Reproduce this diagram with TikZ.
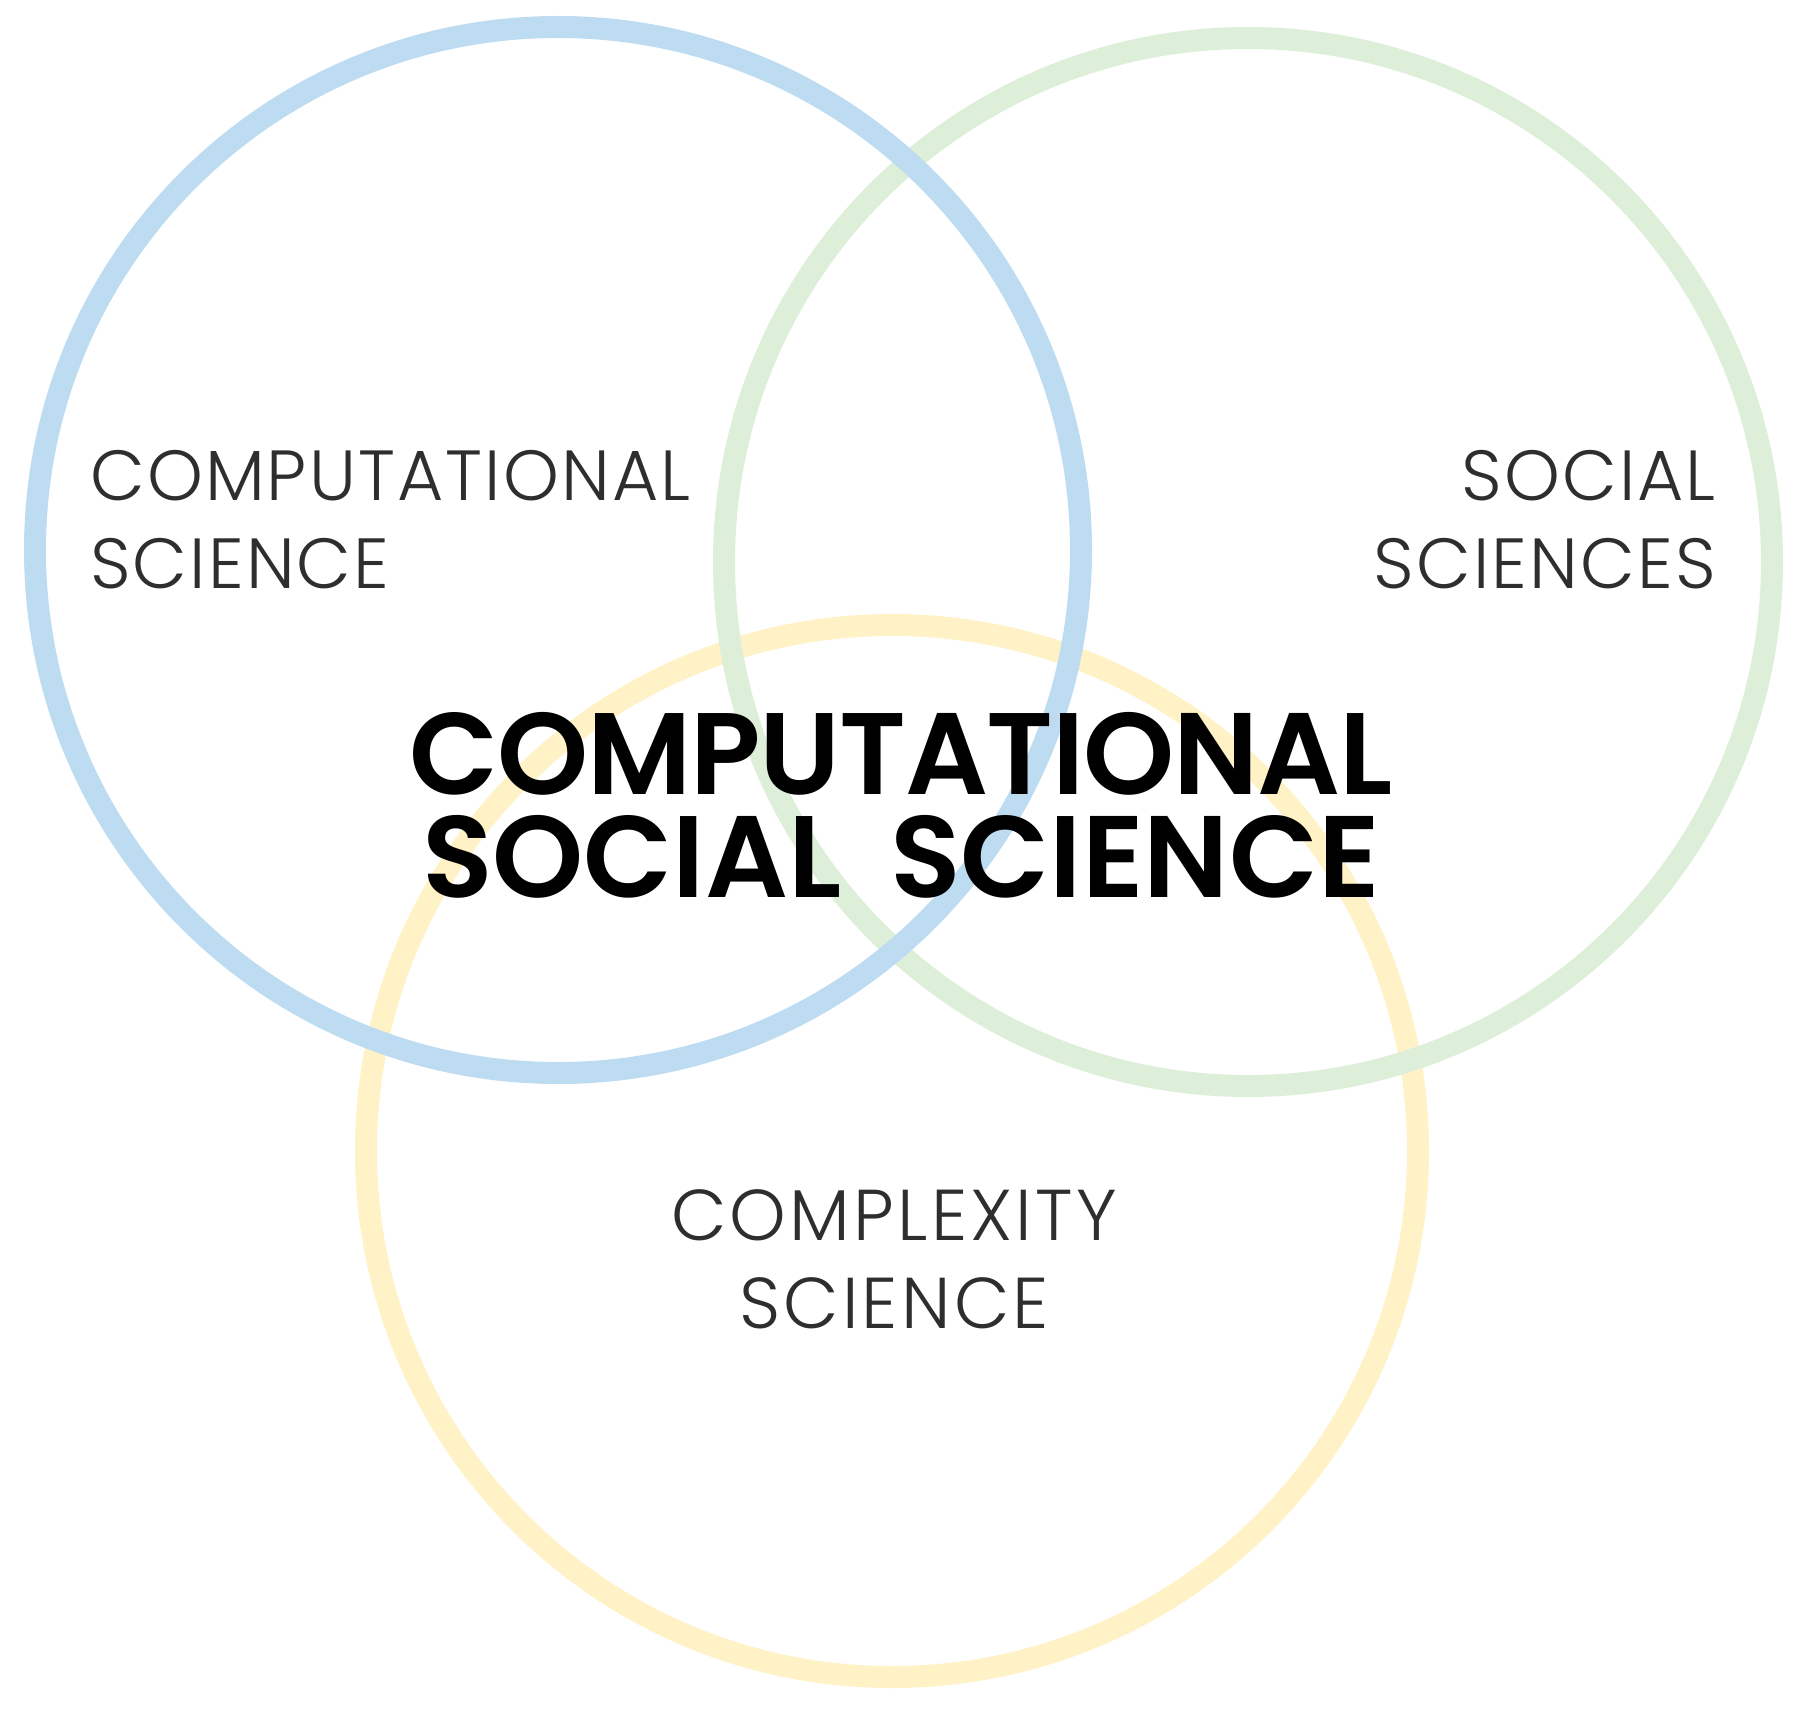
\documentclass[tikz,border=0pt]{standalone}
\usepackage{fontspec}
\setmainfont{Poppins}
\newfontfamily\lightf[LetterSpace=3]{Poppins Light}
\newfontfamily\lightfw[LetterSpace=4.5]{Poppins Light}
\newfontfamily\boldf{Poppins SemiBold}
\newfontfamily\boldft[LetterSpace=-1]{Poppins SemiBold}
\definecolor{cblue}{HTML}{BDDCF2}
\definecolor{cgreen}{HTML}{DDEFD8}
\definecolor{cyellow}{HTML}{FFF2C6}
\definecolor{labgray}{HTML}{2E2E2E}
\begin{document}
\begin{tikzpicture}[x=1pt,y=-1pt,
  ring/.style={line width=22pt},
  lab/.style={inner sep=0pt,text=labgray,font=\lightf\fontsize{71}{88}\selectfont},
  labw/.style={inner sep=0pt,text=labgray,font=\lightfw\fontsize{72}{88}\selectfont},
  title/.style={inner sep=0pt,text=black,align=center,font=\boldf\fontsize{116}{103}\selectfont}]
\useasboundingbox (0,0) rectangle (1800,1712);
\draw[ring,cyellow] (892,1151) circle[radius=526];
\draw[ring,cgreen] (1248,562) circle[radius=524];
\draw[ring,cblue] (558,550) circle[radius=523];
\node[lab,anchor=north west,align=left] (cs) at (90,450) {COMPUTATIONAL\\SCIENCE};
\node[lab,anchor=north east,align=right] (ss) at (1716,450) {SOCIAL\\SCIENCES};
\node[labw,anchor=north,align=center] (cx) at (894,1189) {COMPLEXITY\\SCIENCE};
\node[title,anchor=north] (css) at (901,712) {{\boldft COMPUTATIONAL}\\SOCIAL\hspace{21pt} SCIENCE};
\end{tikzpicture}
\end{document}
